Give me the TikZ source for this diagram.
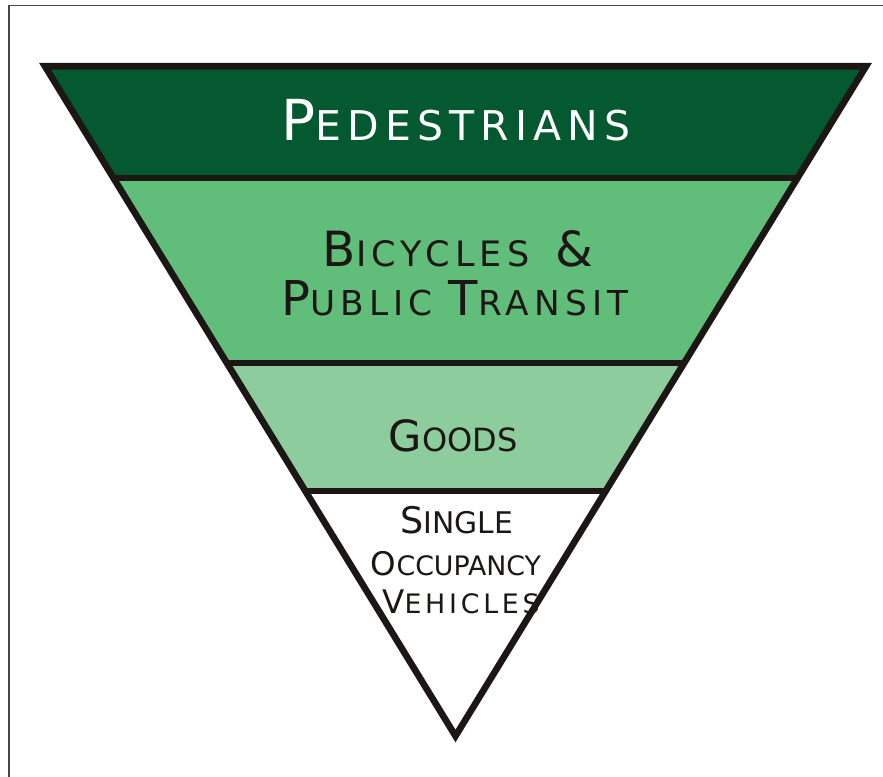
\documentclass[tikz,border=0pt]{standalone}
\usepackage{fontspec}
\setmainfont{DejaVu Sans}
\newfontfamily\spaced[LetterSpace=15]{DejaVu Sans}
\newfontfamily\spacedv[LetterSpace=14]{DejaVu Sans}
\usetikzlibrary{calc}
\definecolor{bandA}{RGB}{5,89,48}
\definecolor{bandB}{RGB}{96,190,122}
\definecolor{bandC}{RGB}{141,204,156}
\definecolor{ink}{RGB}{28,23,20}
\definecolor{framec}{RGB}{70,70,70}
\newcommand\FS[2]{{\fontsize{#1}{#1}\selectfont #2}}
\tikzset{
  edge/.style={draw=ink, line width=6.6pt, line join=miter},
  divider/.style={draw=ink, line width=6.8pt},
  lbl/.style={anchor=base, inner sep=0pt, text=ink},
}
\begin{document}
\begin{tikzpicture}[x=1pt,y=-1pt]
\useasboundingbox (0,0) rectangle (883,776);
\fill[white] (0,0) rectangle (883,776);
\draw[framec, line width=1.6pt] (8.8,780) -- (8.8,5.5) -- (890,5.5);
% triangle corners (stroke centre line)
\coordinate (TL) at (45,66.3);
\coordinate (TR) at (866,66.3);
\coordinate (AP) at (455.5,736);
% divider end points
\coordinate (L1) at ($(TL)!0.1668!(AP)$);
\coordinate (R1) at ($(TR)!0.1668!(AP)$);
\coordinate (L2) at ($(TL)!0.4431!(AP)$);
\coordinate (R2) at ($(TR)!0.4431!(AP)$);
\coordinate (L3) at ($(TL)!0.6342!(AP)$);
\coordinate (R3) at ($(TR)!0.6342!(AP)$);
% bands
\fill[bandA] (TL) -- (TR) -- (R1) -- (L1) -- cycle;
\fill[bandB] (L1) -- (R1) -- (R2) -- (L2) -- cycle;
\fill[bandC] (L2) -- (R2) -- (R3) -- (L3) -- cycle;
\fill[white] (L3) -- (R3) -- (AP) -- cycle;
% labels
\node[lbl, text=white] (ped) at (456,140) {\spaced\FS{56.5}{P}\FS{41}{EDESTRIANS}};
\node[lbl] (bic) at (458,266.7) {\spaced\FS{48.5}{B}\FS{35}{ICYCLES}\hspace{26pt}\FS{48.5}{\&}};
\node[lbl] (pub) at (455,315) {\spaced\FS{48}{P}\FS{34.3}{UBLIC}\hspace{16pt}\FS{48}{T}\FS{34.3}{RANSIT}};
\node[lbl] (goo) at (453,451) {\FS{43}{G}\FS{32}{OODS}};
\node[lbl] (sin) at (456.5,533) {\FS{36.6}{S}\FS{29.8}{INGLE}};
\node[lbl] (occ) at (456,575) {\FS{32.5}{O}\FS{26.8}{CCUPANCY}};
\node[lbl] (veh) at (461,613) {\spacedv\FS{32.5}{V}\FS{26.8}{EHICLES}};
% dividers and outline
\draw[divider] (L1) -- (R1);
\draw[divider] (L2) -- (R2);
\draw[divider] (L3) -- (R3);
\draw[edge] (TL) -- (TR) -- (AP) -- cycle;
\end{tikzpicture}
\end{document}
